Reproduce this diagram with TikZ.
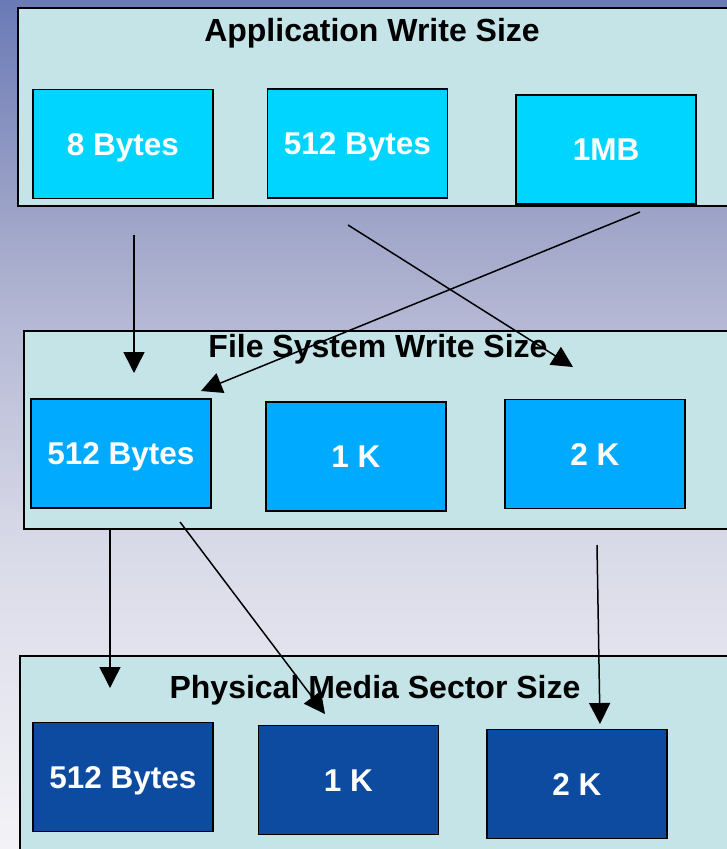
\documentclass[tikz,border=0pt]{standalone}
\usepackage{fontspec}
\setmainfont{Liberation Sans}
\usetikzlibrary{arrows.meta}
\definecolor{bgA}{RGB}{106,122,182}
\definecolor{bgB}{RGB}{158,164,200}
\definecolor{bgC}{RGB}{180,184,212}
\definecolor{bgD}{RGB}{217,218,232}
\definecolor{bgE}{RGB}{243,243,247}
\definecolor{panelc}{RGB}{197,228,231}
\definecolor{topc}{RGB}{0,213,255}
\definecolor{midc}{RGB}{0,170,255}
\definecolor{botc}{RGB}{12,75,160}
\tikzset{
  panel/.style={draw=black, line width=1.5pt, fill=panelc, rectangle, inner sep=0pt, anchor=north west},
  ptitle/.style={font=\fontsize{32}{36}\selectfont\bfseries, text=black, inner sep=0pt, text height=23pt, text depth=0pt},
  sbox/.style={draw=black, line width=1.8pt, rectangle, inner sep=0pt, minimum width=180pt, minimum height=109pt, text=white, font=\fontsize{31.5}{36}\selectfont\bfseries, text height=22.5pt, text depth=0pt},
  topbox/.style={sbox, fill=topc},
  midbox/.style={sbox, fill=midc},
  botbox/.style={sbox, fill=botc},
  conn/.style={draw=black, line width=1.5pt, -{Triangle[length=21pt, width=21pt]}}
}
\begin{document}
\begin{tikzpicture}[x=1pt, y=-1pt]
\useasboundingbox (0,0) rectangle (727,849);
\clip (0,0) rectangle (727,849);
% background
\shade[top color=bgA, bottom color=bgB] (0,0) rectangle (727,216);
\shade[top color=bgB, bottom color=bgC] (0,215) rectangle (727,321);
\shade[top color=bgC, bottom color=bgD] (0,320) rectangle (727,546);
\shade[top color=bgD, bottom color=bgE] (0,545) rectangle (727,849);
% panels
\node[panel, minimum width=723pt, minimum height=198pt] (app) at (17,7) {};
\node[panel, minimum width=717pt, minimum height=198pt] (fs) at (23,330) {};
\node[panel, minimum width=721pt, minimum height=205pt] (pm) at (19,655) {};
% titles
\node[ptitle] (appT) at (372,30) {Application Write Size};
\node[ptitle] (fsT) at (378,346) {File System Write Size};
\node[ptitle] (pmT) at (375,687) {Physical Media Sector Size};
% boxes
\node[topbox] (a8) at (123,144) {8 Bytes};
\node[topbox] (a512) at (357.5,143.5) {512 Bytes};
\node[topbox] (a1m) at (606,149.5) {1MB};
\node[midbox] (f512) at (121,453.5) {512 Bytes};
\node[midbox] (f1k) at (356,456.5) {1 K};
\node[midbox] (f2k) at (595,454) {2 K};
\node[botbox] (p512) at (123,777) {512 Bytes};
\node[botbox] (p1k) at (348.5,780) {1 K};
\node[botbox] (p2k) at (577,784) {2 K};
% connector end points
\coordinate (s1) at (134,235);
\coordinate (e1) at (134,373);
\coordinate (s2) at (348,225);
\coordinate (e2) at (573,367);
\coordinate (s3) at (640,212);
\coordinate (e3) at (201,391);
\coordinate (s4) at (110,530);
\coordinate (e4) at (110,688);
\coordinate (s5) at (180,522);
\coordinate (e5) at (325,714);
\coordinate (s6) at (597,545);
\coordinate (e6) at (600,724);
% connectors
\draw[conn] (s1) -- (e1);
\draw[conn] (s2) -- (e2);
\draw[conn] (s3) -- (e3);
\draw[conn] (s4) -- (e4);
\draw[conn] (s5) -- (e5);
\draw[conn] (s6) -- (e6);
\end{tikzpicture}
\end{document}
